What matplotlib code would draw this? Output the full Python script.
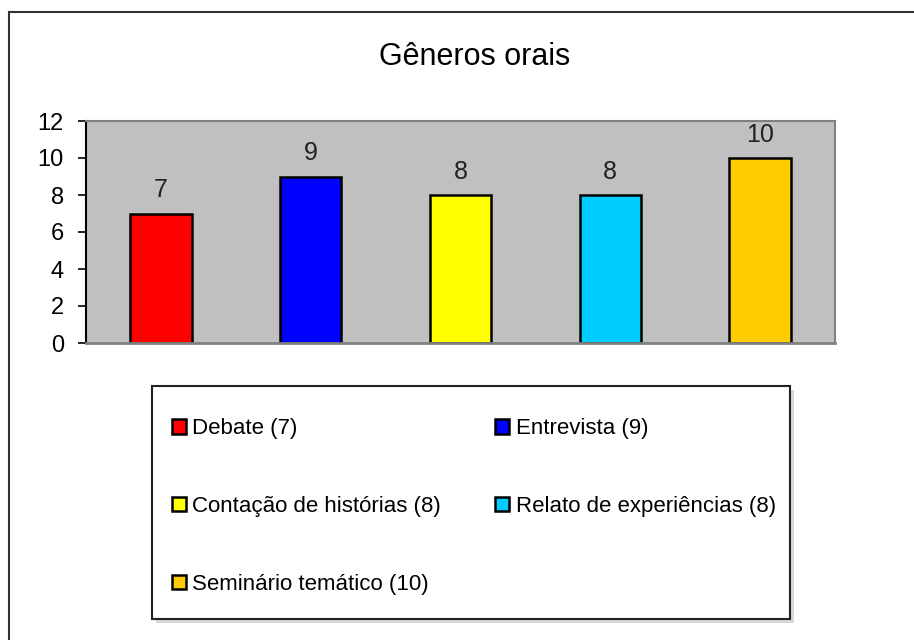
import matplotlib
matplotlib.use("Agg")
import matplotlib.pyplot as plt
from matplotlib.patches import Rectangle

plt.rcParams['font.family'] = ['Liberation Sans', 'DejaVu Sans']

title = "Gêneros orais"
categories = ["Debate", "Entrevista", "Contação de histórias", "Relato de experiências", "Seminário temático"]
values = [7, 9, 8, 8, 10]
colors = ["#FF0000", "#0000FF", "#FFFF00", "#00CCFF", "#FFCC00"]
yticks = [0, 2, 4, 6, 8, 10, 12]

W, H = 914, 640
fig = plt.figure(figsize=(W / 100, H / 100), dpi=100)
fig.patch.set_facecolor("white")

def fx(px):
    return px / W

def fy(py):
    return 1 - py / H

# outer chart border (extends beyond right/bottom edges)
fig.add_artist(Rectangle((fx(9), -0.1), 1.2, fy(12) + 0.1, transform=fig.transFigure,
                         facecolor="none", edgecolor="#333333", lw=1.5))

ax = fig.add_axes([fx(86), fy(343), fx(835) - fx(86), fy(121) - fy(343)])
ax.set_facecolor("#C0C0C0")
x = list(range(len(categories)))
bars = ax.bar(x, values, width=0.41, color=colors, edgecolor="black", linewidth=1.8)
ax.set_xlim(-0.5, len(categories) - 0.5)
ax.set_ylim(0, 12)
ax.set_yticks(yticks)
ax.set_yticklabels([str(t) for t in yticks], fontsize=17)
ax.set_xticks([])
ax.tick_params(axis="y", direction="out", length=6, width=1.2, color="black", pad=10)
ax.spines["left"].set_color("black")
ax.spines["left"].set_linewidth(1.5)
for s in ["top", "right"]:
    ax.spines[s].set_color("#808080")
    ax.spines[s].set_linewidth(1.5)
ax.spines["bottom"].set_color("#808080")
ax.spines["bottom"].set_linewidth(2)

ax.bar_label(bars, labels=[str(v) for v in values], padding=8, fontsize=18, color="#222222")

fig.text(fx(475), fy(57), title, ha="center", va="center", fontsize=22, color="black")

# legend box with shadow
bx0, by0, bx1, by1 = 152, 386, 790, 619
fig.add_artist(Rectangle((fx(bx0 + 4), fy(by1 + 4)), fx(bx1) - fx(bx0), fy(by0) - fy(by1),
                         transform=fig.transFigure, facecolor="#D8D8D8", edgecolor="none"))
fig.add_artist(Rectangle((fx(bx0), fy(by1)), fx(bx1) - fx(bx0), fy(by0) - fy(by1),
                         transform=fig.transFigure, facecolor="white", edgecolor="#222222", lw=1.5))

handles = list(bars.patches)
labels = [f"{c} ({v})" for c, v in zip(categories, values)]
order = [0, 2, 4, 1, 3]
leg = fig.legend([handles[i] for i in order], [labels[i] for i in order], ncol=2,
                 mode="expand", loc="center",
                 bbox_to_anchor=(fx(172), fy(by1 + 4), fx(776) - fx(172), fy(by0 + 4) - fy(by1 + 4)),
                 bbox_transform=fig.transFigure, frameon=False, fontsize=16,
                 borderpad=0, borderaxespad=0, handlelength=0.62, handleheight=0.62,
                 handletextpad=0.3, labelspacing=2.55, columnspacing=1.0)

fig.savefig("out.png", dpi=100)
